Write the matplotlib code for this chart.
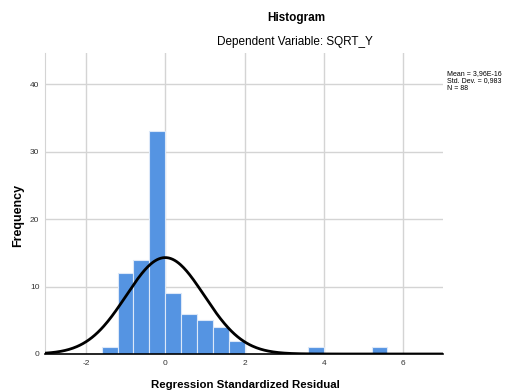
import numpy as np
import matplotlib.pyplot as plt

plt.rcParams['font.family'] = ['Liberation Sans', 'DejaVu Sans']
plt.rcParams['axes.unicode_minus'] = False

# bin left edges and counts
bin_left = [-1.6, -1.2, -0.8, -0.4, 0.0, 0.4, 0.8, 1.2, 1.6, 3.6, 5.2]
counts = [1, 12, 14, 33, 9, 6, 5, 4, 2, 1, 1]
bin_width = 0.4

mean = 3.96e-16
std = 0.983
n = 88

fig = plt.figure(figsize=(5.05, 3.92), dpi=100)
ax = fig.add_axes([45/505, 1 - 354/392, (443-45)/505, (354-53)/392])

ax.bar(bin_left, counts, width=bin_width, align='edge', color='#5594e2',
       edgecolor='#dce8f8', linewidth=0.8, zorder=2)

x = np.linspace(-3.03, 7.0, 400)
y = n * bin_width / (std * np.sqrt(2 * np.pi)) * np.exp(-0.5 * ((x - mean) / std) ** 2)
ax.plot(x, y, color='black', linewidth=2, zorder=3)

ax.set_xlim(-3.03, 7.0)
ax.set_ylim(0, 44.6)
ax.set_xticks([-2, 0, 2, 4, 6])
ax.set_yticks([0, 10, 20, 30, 40])
ax.grid(True, color='#d4d4d4', linewidth=1, zorder=0)
ax.set_axisbelow(True)
for s in ['top', 'right']:
    ax.spines[s].set_visible(False)
ax.spines['left'].set_color('#d4d4d4')
ax.spines['bottom'].set_color('black')
ax.spines['bottom'].set_linewidth(1.2)
ax.tick_params(length=0, labelsize=6, colors='#333333', pad=4)

fig.text(296/505, 1 - 18/392, 'Histogram', ha='center', va='center', fontsize=8.5, fontweight='bold')
fig.text(295/505, 1 - 42/392, 'Dependent Variable: SQRT_Y', ha='center', va='center', fontsize=8.5)
fig.text(18/505, 1 - 215/392, 'Frequency', ha='center', va='center', rotation=90,
         fontsize=9, fontweight='bold')
fig.text(245/505, 1 - 385/392, 'Regression Standardized Residual', ha='center', va='center',
         fontsize=8.2, fontweight='bold')

stats = 'Mean = 3,96E-16\nStd. Dev. = 0,983\nN = 88'
fig.text(447/505, 1 - 70/392, stats, ha='left', va='top', fontsize=5, linespacing=1.1)

fig.savefig('out.png', dpi=100)
